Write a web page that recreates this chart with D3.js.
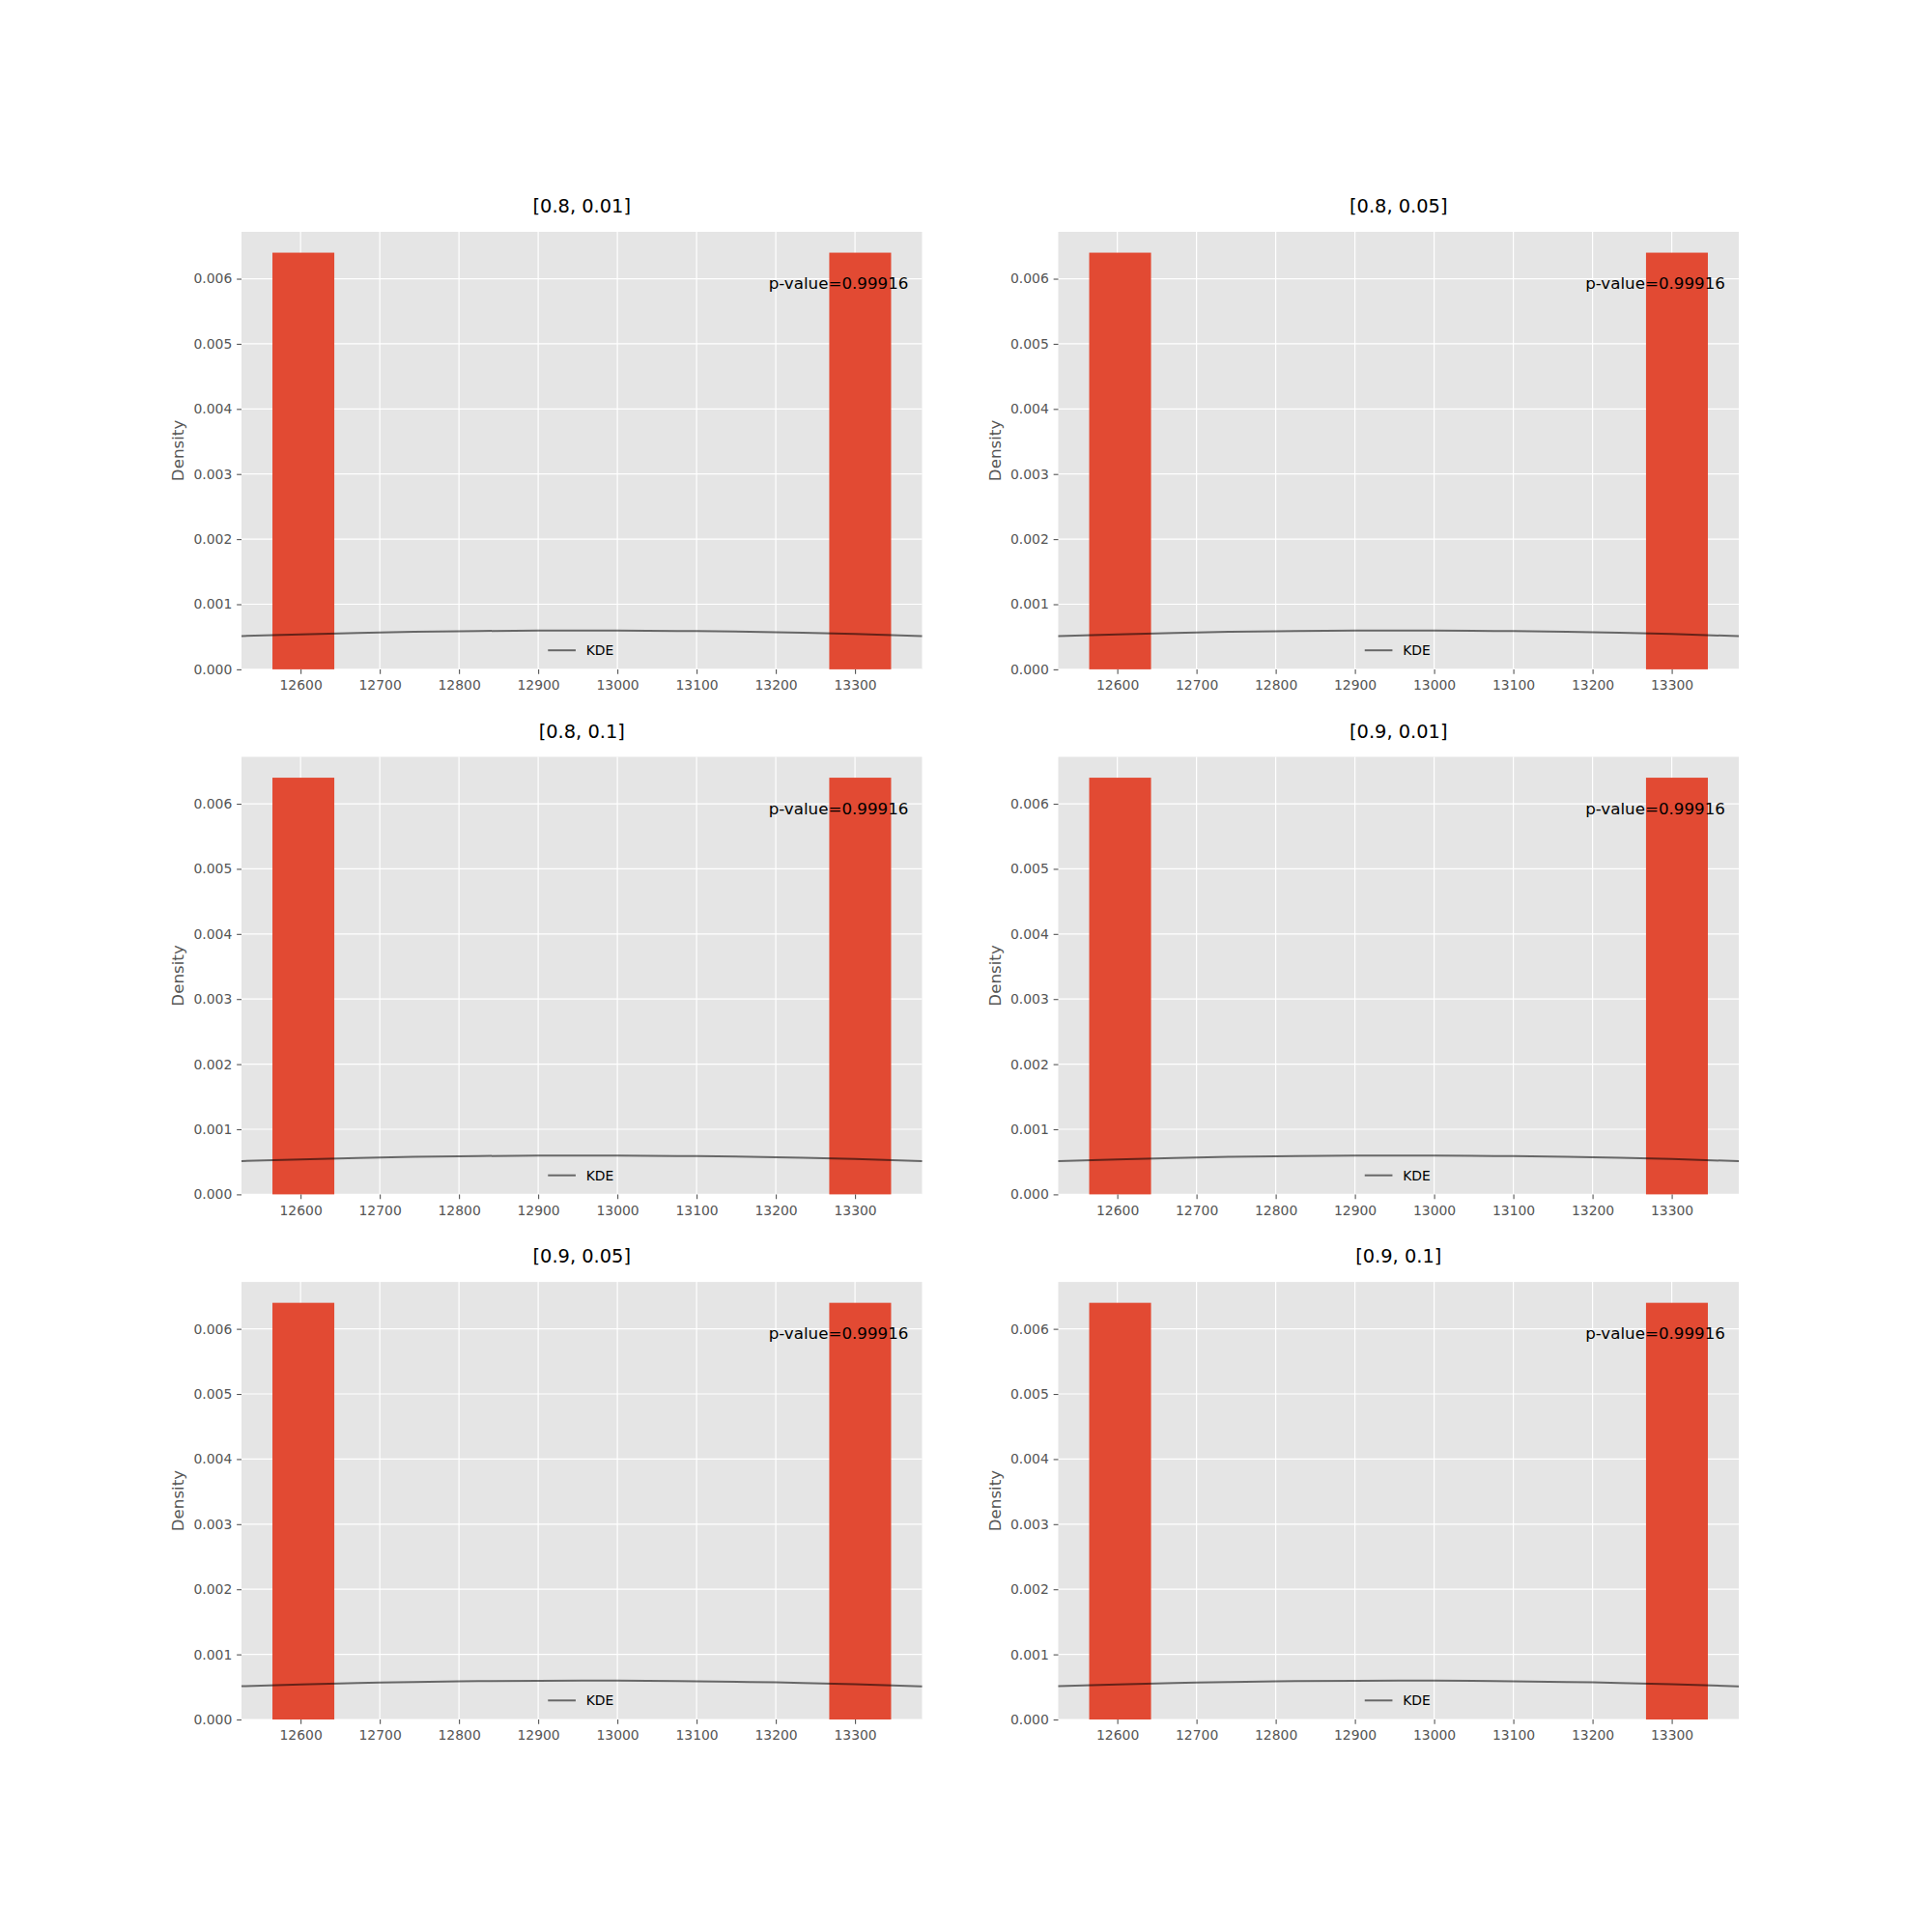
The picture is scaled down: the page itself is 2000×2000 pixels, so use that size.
<!DOCTYPE html>
<html>
<head>
<meta charset="utf-8">
<script src="https://cdn.jsdelivr.net/npm/d3@7"></script>
<style>
  html, body { margin: 0; padding: 0; background: #ffffff; }
  text { font-family: "DejaVu Sans", sans-serif; }
</style>
</head>
<body>
<div id="chart"></div>
<script>
// ---- Data ----
const panelTitles = ["[0.8, 0.01]", "[0.8, 0.05]", "[0.8, 0.1]", "[0.9, 0.01]", "[0.9, 0.05]", "[0.9, 0.1]"];
const pValues = ["0.99916", "0.99916", "0.99916", "0.99916", "0.99916", "0.99916"];
// histogram: 10 bins between min and max of the data
const binEdges = [12564.5, 12642.6, 12720.7, 12798.8, 12876.9, 12955.0, 13033.2, 13111.3, 13189.4, 13267.5, 13345.6];
const binDensity = [0.0064, 0, 0, 0, 0, 0, 0, 0, 0, 0.0064];
// KDE curve
const kdeX = [12525.4, 12600, 12700, 12800, 12900, 12955, 13000, 13100, 13200, 13300, 13384.7];
const kdeY = [0.000511, 0.000538, 0.000567, 0.000586, 0.000595, 0.000597, 0.000596, 0.000587, 0.000570, 0.000542, 0.000510];
const xTicks = [12600, 12700, 12800, 12900, 13000, 13100, 13200, 13300];
const yTicks = [0, 0.001, 0.002, 0.003, 0.004, 0.005, 0.006];
const yMax = 0.00672;
const legendLabel = "KDE";
const yLabel = "Density";

// ---- Layout ----
const W = 2000, H = 2000;
const colX = [250, 1095.5];
const rowY = [240, 783.5, 1327.1];
const pw = 704.5, ph = 452.9;

const svg = d3.select("#chart").append("svg")
  .attr("width", W).attr("height", H)
  .style("background", "#ffffff");

const xMinData = binEdges[0], xMaxData = binEdges[binEdges.length - 1];
const pad = (xMaxData - xMinData) * 0.05;

panelTitles.forEach((title, i) => {
  const col = i % 2, row = Math.floor(i / 2);
  const g = svg.append("g").attr("transform", `translate(${colX[col]},${rowY[row]})`);

  const x = d3.scaleLinear().domain([xMinData - pad, xMaxData + pad]).range([0, pw]);
  const y = d3.scaleLinear().domain([0, yMax]).range([ph, 0]);

  // background
  g.append("rect").attr("width", pw).attr("height", ph).attr("fill", "#E5E5E5");

  // grid
  g.selectAll(".gx").data(xTicks).enter().append("line")
    .attr("x1", d => x(d)).attr("x2", d => x(d)).attr("y1", 0).attr("y2", ph)
    .attr("stroke", "#ffffff").attr("stroke-width", 1.2);
  g.selectAll(".gy").data(yTicks).enter().append("line")
    .attr("x1", 0).attr("x2", pw).attr("y1", d => y(d)).attr("y2", d => y(d))
    .attr("stroke", "#ffffff").attr("stroke-width", 1.2);

  // bars
  const bins = binDensity.map((v, k) => ({ x0: binEdges[k], x1: binEdges[k + 1], v }));
  g.selectAll(".bar").data(bins.filter(b => b.v > 0)).enter().append("rect")
    .attr("x", d => x(d.x0)).attr("width", d => x(d.x1) - x(d.x0))
    .attr("y", d => y(d.v)).attr("height", d => y(0) - y(d.v))
    .attr("fill", "#E24A33");

  // KDE line
  const line = d3.line().x((d, k) => x(kdeX[k])).y(d => y(d)).curve(d3.curveNatural);
  g.append("path").datum(kdeY).attr("d", line)
    .attr("fill", "none").attr("stroke", "#000").attr("stroke-opacity", 0.55).attr("stroke-width", 2);

  // axes
  const xAxis = d3.axisBottom(x).tickValues(xTicks).tickFormat(d3.format("d")).tickSize(4.86).tickPadding(6.5);
  const gx = g.append("g").attr("transform", `translate(0,${ph})`).call(xAxis);
  gx.select(".domain").remove();
  gx.selectAll("line").attr("stroke", "#555555").attr("stroke-width", 1.1);
  gx.selectAll("text").attr("fill", "#555555").style("font-size", "13.9px");

  const yAxis = d3.axisLeft(y).tickValues(yTicks).tickFormat(d3.format(".3f")).tickSize(4.86).tickPadding(4.86);
  const gy = g.append("g").call(yAxis);
  gy.select(".domain").remove();
  gy.selectAll("line").attr("stroke", "#555555").attr("stroke-width", 1.1);
  gy.selectAll("text").attr("fill", "#555555").style("font-size", "13.9px");

  // y label
  g.append("text")
    .attr("transform", `translate(${-60},${ph / 2}) rotate(-90)`)
    .attr("text-anchor", "middle")
    .attr("fill", "#555555").style("font-size", "16.7px")
    .text(yLabel);

  // title
  g.append("text").attr("x", pw / 2).attr("y", -20)
    .attr("text-anchor", "middle").attr("fill", "#000000").style("font-size", "19.4px")
    .text(title);

  // p-value text
  g.append("text").attr("x", pw * 0.98).attr("y", ph * 0.1 + 14)
    .attr("text-anchor", "end").attr("fill", "#000000").style("font-size", "16.7px")
    .text("p-value=" + pValues[i]);

  // legend
  const ly = ph - 19.7;
  g.append("line").attr("x1", pw / 2 - 35).attr("x2", pw / 2 - 6.3).attr("y1", ly).attr("y2", ly)
    .attr("stroke", "#000").attr("stroke-opacity", 0.55).attr("stroke-width", 2);
  g.append("text").attr("x", pw / 2 + 4.5).attr("y", ly).attr("dy", "0.35em")
    .attr("fill", "#000000").style("font-size", "13.9px")
    .text(legendLabel);
});
</script>
</body>
</html>
